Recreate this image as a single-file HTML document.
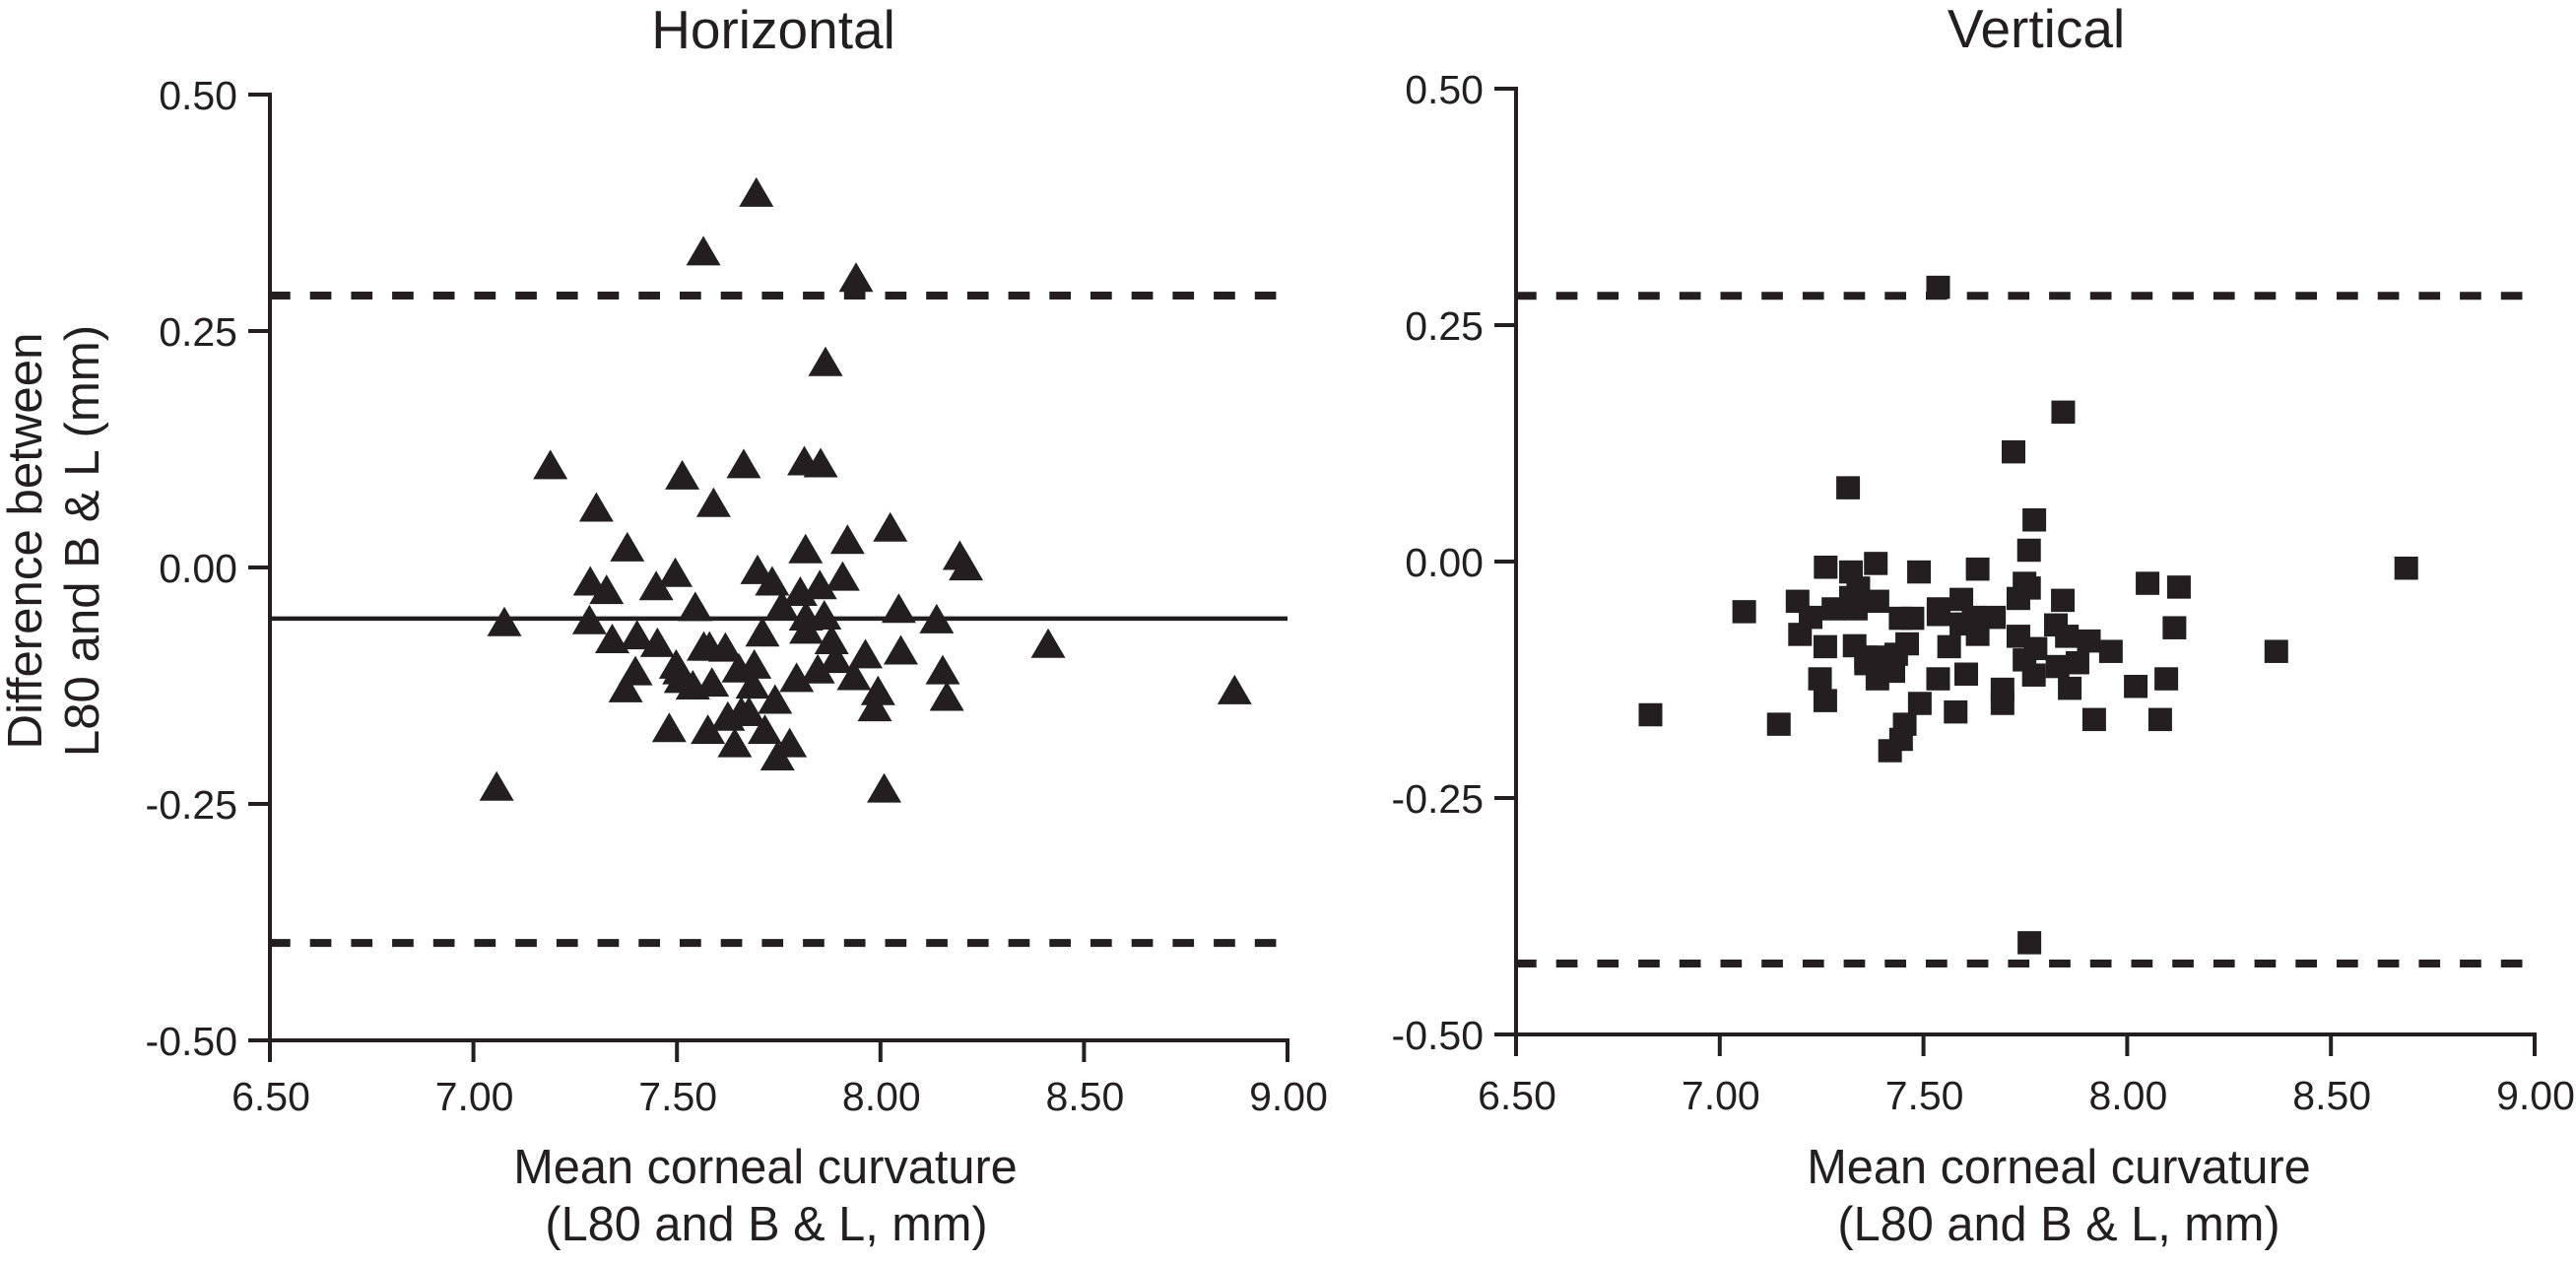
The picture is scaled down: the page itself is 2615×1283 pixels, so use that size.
<!DOCTYPE html>
<html lang="en">
<head>
<meta charset="utf-8">
<title>Horizontal and Vertical Bland-Altman plots</title>
<style>
html,body{margin:0;padding:0;background:#fff;width:2615px;height:1283px;overflow:hidden}
svg{display:block}
text{font-family:"Liberation Sans",Arial,sans-serif;fill:#231f20}
.title{font-size:55px;text-anchor:middle}
.axis-title{font-size:48.7px;text-anchor:middle}
.y-title{font-size:49.2px;text-anchor:middle}
.tick{font-size:41px}
</style>
</head>
<body>
<svg id="chart" xmlns="http://www.w3.org/2000/svg" width="2615" height="1283" viewBox="0 0 2615 1283">
  <rect x="0" y="0" width="2615" height="1283" fill="#fff"/>
  <text class="title" x="785" y="49">Horizontal</text>
  <text class="title" x="2067" y="48">Vertical</text>
  <text class="y-title" transform="translate(42,549) rotate(-90)">Difference between</text>
  <text class="y-title" transform="translate(100,549) rotate(-90)">L80 and B &amp; L (mm)</text>
  <text class="axis-title" x="777" y="1201">Mean corneal curvature</text>
  <text class="axis-title" x="778" y="1259">(L80 and B &amp; L, mm)</text>
  <text class="axis-title" x="2090" y="1201">Mean corneal curvature</text>
  <text class="axis-title" x="2090" y="1259">(L80 and B &amp; L, mm)</text>
</svg>
<script>
var xTicks = [6.5, 7, 7.5, 8, 8.5, 9];
var yTicks = [0.5, 0.25, 0, -0.25, -0.5];

var horizontalMeanCurvature = [7.695,7.565,7.94,7.865,7.189,7.513,7.664,7.813,7.853,7.302,7.59,8.024,7.378,7.919,7.816,8.195,8.21,7.496,7.287,7.327,7.449,7.698,7.734,7.907,7.803,7.851,7.545,7.758,8.045,8.138,7.076,7.285,7.817,7.862,7.341,7.402,7.452,7.71,7.818,7.88,7.566,7.58,7.619,8.05,7.963,8.412,7.498,7.506,7.398,7.51,7.539,7.586,7.652,7.69,7.846,7.89,7.794,7.935,8.153,7.686,7.374,7.741,7.994,8.163,7.986,7.625,7.658,7.677,7.716,7.481,7.576,7.642,7.777,7.747,7.057,8.009,8.87];
var horizontalDifference = [0.397,0.335,0.307,0.218,0.109,0.098,0.11,0.113,0.111,0.064,0.069,0.043,0.022,0.03,0.02,0.013,0.002,-0.005,-0.014,-0.023,-0.019,-0.002,-0.014,-0.009,-0.025,-0.018,-0.041,-0.04,-0.043,-0.054,-0.057,-0.055,-0.051,-0.05,-0.075,-0.071,-0.079,-0.068,-0.065,-0.076,-0.083,-0.083,-0.084,-0.087,-0.091,-0.08,-0.102,-0.108,-0.109,-0.117,-0.124,-0.121,-0.106,-0.102,-0.107,-0.096,-0.116,-0.114,-0.108,-0.123,-0.127,-0.139,-0.13,-0.136,-0.147,-0.157,-0.152,-0.152,-0.171,-0.169,-0.171,-0.185,-0.185,-0.199,-0.231,-0.233,-0.129];
var horizontalMeanLine = [-0.054];
var horizontalLimits = [0.2875, -0.397];

var verticalMeanCurvature = [7.536,7.843,7.721,7.315,7.772,7.759,7.26,7.322,7.383,7.489,7.633,7.748,7.759,7.733,7.34,7.322,7.387,7.191,7.06,7.223,7.279,7.334,7.444,7.473,7.537,7.537,7.593,7.842,7.593,7.623,7.673,7.633,7.733,7.825,7.852,7.906,7.96,8.05,8.127,8.116,8.366,8.685,7.197,7.259,7.331,7.46,7.563,7.433,7.359,7.359,7.387,7.417,7.387,7.426,7.246,7.259,7.536,7.605,7.694,7.694,7.491,7.579,7.454,7.445,7.418,7.145,6.83,7.919,8.081,7.859,8.021,8.096,7.771,7.748,7.775,7.829,7.878,7.76];
var verticalDifference = [0.29,0.158,0.116,0.078,0.044,0.012,-0.006,-0.011,-0.002,-0.011,-0.008,-0.023,-0.028,-0.039,-0.028,-0.038,-0.042,-0.042,-0.053,-0.059,-0.05,-0.05,-0.06,-0.06,-0.05,-0.056,-0.04,-0.041,-0.066,-0.059,-0.059,-0.077,-0.079,-0.067,-0.079,-0.084,-0.095,-0.023,-0.027,-0.07,-0.095,-0.007,-0.077,-0.09,-0.089,-0.087,-0.09,-0.098,-0.101,-0.108,-0.101,-0.104,-0.124,-0.116,-0.124,-0.147,-0.124,-0.119,-0.135,-0.15,-0.15,-0.159,-0.172,-0.188,-0.2,-0.172,-0.162,-0.167,-0.167,-0.134,-0.132,-0.124,-0.12,-0.104,-0.092,-0.111,-0.107,-0.403];
var verticalLimits = [0.281, -0.425];

var INK = '#231f20';
var NS = 'http://www.w3.org/2000/svg';
var chart = document.getElementById('chart');

function make(tag, attrs) {
  var el = document.createElementNS(NS, tag);
  for (var k in attrs) el.setAttribute(k, attrs[k]);
  return el;
}

function drawPanel(p) {
  var xScale = function (v) { return p.x0 + (v - 6.5) * (p.x1 - p.x0) / 2.5; };
  var yScale = function (v) { return p.y0 + (0.5 - v) * (p.y1 - p.y0); };

  var g = make('g', {});
  
  
  chart.appendChild(g);

  // axes
  var yAxis = make('line', {x1: xScale(6.5), x2: xScale(6.5), y1: yScale(0.5) - 2, y2: yScale(-0.5) + 22, stroke: INK, 'stroke-width': 4});
  
  
  g.appendChild(yAxis);

  var xAxis = make('line', {x1: xScale(6.5) - 22, x2: xScale(9) + 2, y1: yScale(-0.5), y2: yScale(-0.5), stroke: INK, 'stroke-width': 4});
  
  
  g.appendChild(xAxis);

  yTicks.forEach(function (v) {
    var t = make('line', {x1: xScale(6.5) - 22, x2: xScale(6.5), y1: yScale(v), y2: yScale(v), stroke: INK, 'stroke-width': 4});
    
    
    g.appendChild(t);
    var label = make('text', {'class': 'tick', x: p.yLabelRight, y: yScale(v) + 15, 'text-anchor': 'end'});
    
    
    label.textContent = v.toFixed(2);
    g.appendChild(label);
  });

  xTicks.forEach(function (v) {
    var t = make('line', {x1: xScale(v), x2: xScale(v), y1: yScale(-0.5), y2: yScale(-0.5) + 22, stroke: INK, 'stroke-width': 4});
    
    
    g.appendChild(t);
    var label = make('text', {'class': 'tick', x: xScale(v) + 1, y: p.xLabelBase, 'text-anchor': 'middle'});
    
    
    label.textContent = v.toFixed(2);
    g.appendChild(label);
  });

  // reference lines
  p.limits.forEach(function (v) {
    var l = make('line', {x1: xScale(6.5) - 1, x2: xScale(8.972), y1: yScale(v), y2: yScale(v), stroke: INK, 'stroke-width': 8, 'stroke-dasharray': '21.7 20'});
    
    
    g.appendChild(l);
  });
  p.meanLine.forEach(function (v) {
    var l = make('line', {x1: xScale(6.5), x2: xScale(9), y1: yScale(v), y2: yScale(v), stroke: INK, 'stroke-width': 4.5});
    
    
    g.appendChild(l);
  });

  // points
  p.xs.forEach(function (xv, i) {
    var cx = xScale(xv), cy = yScale(p.ys[i]), m;
    if (p.marker === 'triangle') {
      m = make('polygon', {points: (cx) + ',' + (cy - 15) + ' ' + (cx + 17.5) + ',' + (cy + 15) + ' ' + (cx - 17.5) + ',' + (cy + 15), fill: INK});
    } else {
      m = make('rect', {x: cx - 12, y: cy - 11.75, width: 24, height: 23.5, fill: INK});
    }
    
    
    g.appendChild(m);
  });
}

drawPanel({name: 'horizontal', x0: 274, x1: 1307, y0: 96, y1: 1056, yLabelRight: 241, xLabelBase: 1127, marker: 'triangle', xs: horizontalMeanCurvature, ys: horizontalDifference, limits: horizontalLimits, meanLine: horizontalMeanLine});
drawPanel({name: 'vertical', x0: 1539, x1: 2573, y0: 90, y1: 1050, yLabelRight: 1506, xLabelBase: 1126, marker: 'square', xs: verticalMeanCurvature, ys: verticalDifference, limits: verticalLimits, meanLine: []});
</script>
</body>
</html>
